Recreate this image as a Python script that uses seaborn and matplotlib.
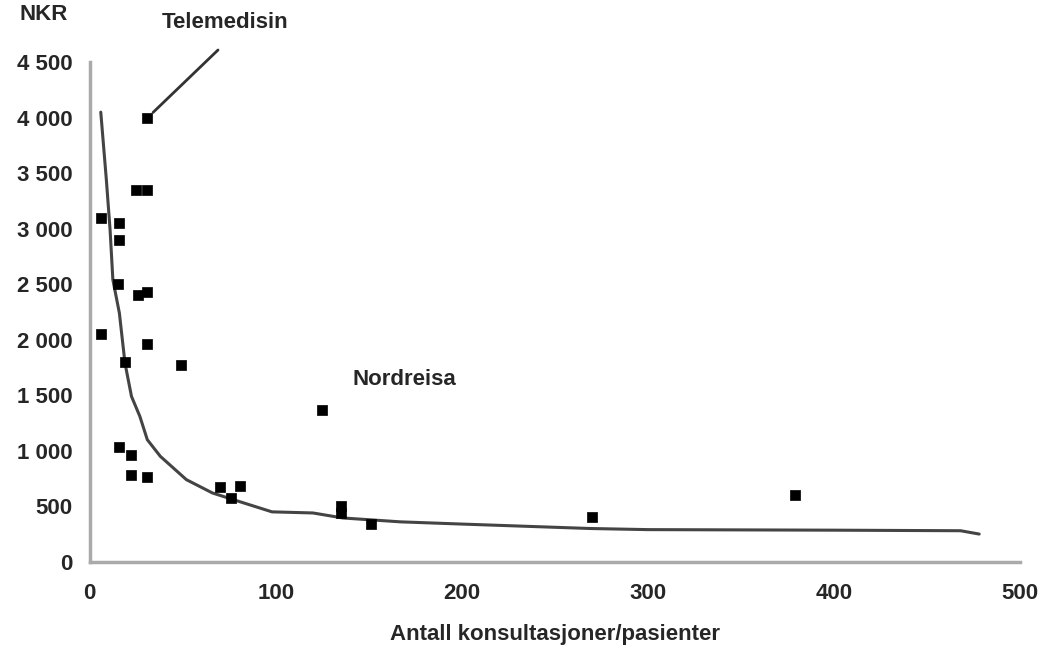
import numpy as np
import pandas as pd
import matplotlib
matplotlib.use("Agg")
import matplotlib.pyplot as plt
import seaborn as sns
from matplotlib.ticker import FuncFormatter

# scatter: consultations per patient vs cost (NKR)
cons = [31, 25, 31, 6, 16, 16, 15, 26, 31, 6, 31, 19, 49, 125, 16, 22, 22, 31,
        70, 81, 76, 135, 135, 151, 270, 379]
cost = [4000, 3350, 3350, 3100, 3050, 2900, 2500, 2400, 2430, 2050, 1960, 1800,
        1770, 1370, 1030, 960, 780, 765, 675, 680, 575, 500, 440, 340, 405, 600]

# trend line
trend_x = [6, 9, 11, 12.5, 16, 19, 22.5, 27, 31, 38, 52, 66, 81, 98, 120, 136,
           167, 200, 269, 300, 400, 468, 478]
trend_y = [4050, 3440, 2990, 2540, 2240, 1790, 1490, 1310, 1100, 950, 740, 620,
           540, 450, 440, 395, 360, 340, 300, 290, 285, 280, 250]

x_ticks = [0, 100, 200, 300, 400, 500]
y_ticks = [0, 500, 1000, 1500, 2000, 2500, 3000, 3500, 4000, 4500]

sns.set_style("white")
plt.rcParams["font.family"] = ["Liberation Sans", "DejaVu Sans"]
FS = 16

fig = plt.figure(figsize=(10.42, 6.48), dpi=100)
ax = fig.add_axes([0.086, 0.133, 0.893, 0.771])

sns.lineplot(x=trend_x, y=trend_y, ax=ax, color="#444444", linewidth=2.2,
             sort=False)
sns.scatterplot(x=cons, y=cost, ax=ax, marker="s", color="black", s=45,
                edgecolor="black", linewidth=0.5, zorder=3)

ax.set_xlim(0, 500)
ax.set_ylim(0, 4500)
ax.set_xticks(x_ticks)
ax.set_yticks(y_ticks)
ax.yaxis.set_major_formatter(FuncFormatter(lambda v, p: f"{int(v):,}".replace(",", " ")))
ax.tick_params(axis="both", direction="out", length=5, width=1.5, color="#999999",
               labelsize=FS)
ax.tick_params(axis="y", pad=7)
ax.tick_params(axis="x", pad=10)
for lab in ax.get_xticklabels() + ax.get_yticklabels():
    lab.set_fontweight("bold")

for side in ["top", "right"]:
    ax.spines[side].set_visible(False)
for side in ["left", "bottom"]:
    ax.spines[side].set_color("#aaaaaa")
    ax.spines[side].set_linewidth(2.5)

ax.set_xlabel("Antall konsultasjoner/pasienter", fontsize=FS, fontweight="bold",
              labelpad=15)
ax.text(-0.075, 1.095, "NKR", transform=ax.transAxes, fontsize=FS,
        fontweight="bold", ha="left", va="center")

ax.annotate("", xy=(33, 4030), xytext=(69, 4610), annotation_clip=False,
            arrowprops=dict(arrowstyle="-", color="#333333", lw=2,
                            shrinkA=0, shrinkB=2))
ax.text(73, 4856, "Telemedisin", fontsize=FS, fontweight="bold", ha="center",
        va="center", clip_on=False)
ax.text(141, 1640, "Nordreisa", fontsize=FS, fontweight="bold", ha="left",
        va="center")

fig.savefig("out.png", dpi=100)
